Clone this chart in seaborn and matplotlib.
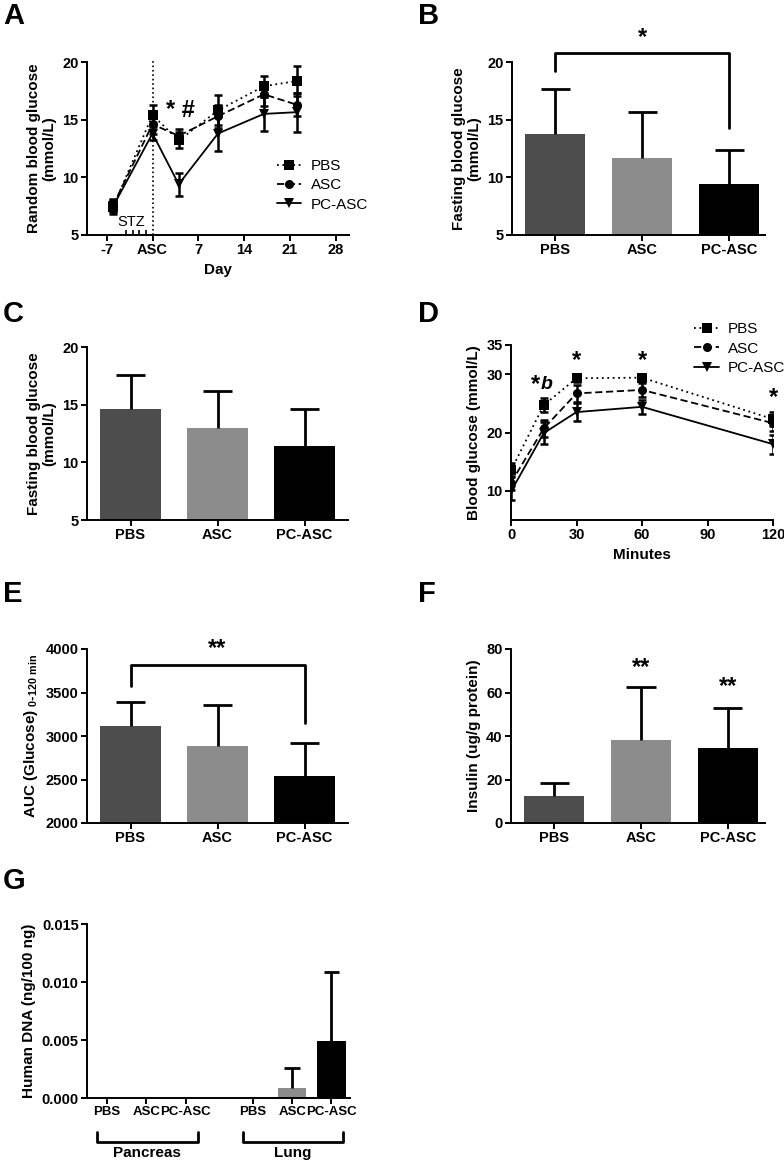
import matplotlib
matplotlib.use("Agg")
import matplotlib.pyplot as plt
import pandas as pd
import seaborn as sns

sns.set_style("ticks")
plt.rcParams['font.family'] = ['Liberation Sans', 'DejaVu Sans']
plt.rcParams['font.weight'] = 'bold'
plt.rcParams['axes.labelweight'] = 'bold'
plt.rcParams['text.color'] = 'black'
plt.rcParams['axes.labelcolor'] = 'black'
plt.rcParams['xtick.color'] = 'black'
plt.rcParams['ytick.color'] = 'black'

groups = ['PBS', 'ASC', 'PC-ASC']
colors = {'PBS': '#4d4d4d', 'ASC': '#8c8c8c', 'PC-ASC': '#000000'}

# A: random blood glucose over days
days = [-6, 0, 4, 10, 17, 22]
a_pbs = [7.45, 15.4, 13.2, 15.8, 17.9, 18.35]
a_pbs_err = [0.6, 0.9, 0.7, 1.3, 0.9, 1.3]
a_asc = [7.6, 14.6, 13.6, 15.3, 17.2, 16.3]
a_asc_err = [0.5, 0.8, 0.6, 1.0, 1.0, 1.0]
a_pc = [7.5, 13.8, 9.4, 13.8, 15.5, 15.65]
a_pc_err = [0.5, 0.6, 1.0, 1.5, 1.5, 1.7]
stz_days = [-4, -3, -2, -1]

# B: fasting blood glucose
b_mean = [13.75, 11.7, 9.45]
b_top = [17.7, 15.65, 12.35]

# C: fasting blood glucose
c_mean = [14.65, 13.0, 11.4]
c_top = [17.6, 16.2, 14.6]

# D: glucose tolerance
minutes = [0, 15, 30, 60, 120]
d_pbs = [13.5, 24.7, 29.3, 29.4, 22.3]
d_pbs_err = [1.2, 1.2, 0.6, 0.5, 1.2]
d_asc = [11.4, 20.7, 26.7, 27.3, 21.6]
d_asc_err = [1.2, 1.4, 1.5, 1.2, 1.3]
d_pc = [9.9, 19.9, 23.5, 24.4, 18.0]
d_pc_err = [1.4, 1.9, 1.5, 1.2, 1.6]

# E: AUC
e_mean = [3110, 2890, 2545]
e_top = [3390, 3360, 2925]

# F: insulin
f_mean = [12.6, 38.3, 34.4]
f_top = [18.5, 62.4, 53.0]

# G: human DNA
g_pos = [0, 1, 2, 3.7, 4.7, 5.7]
g_group = ['PBS', 'ASC', 'PC-ASC', 'PBS', 'ASC', 'PC-ASC']
g_mean = [0, 0, 0, 0, 0.0009, 0.0049]
g_top = [0, 0, 0, 0, 0.0026, 0.0109]
tissues = ['Pancreas', 'Lung']

W, H = 784, 1160
fig = plt.figure(figsize=(W / 100, H / 100), dpi=100)


def rect(l, r, t, b):
    return [l / W, 1 - b / H, (r - l) / W, (b - t) / H]


def style(ax):
    sns.despine(ax=ax)
    for s in ['left', 'bottom']:
        ax.spines[s].set_linewidth(1.4)
        ax.spines[s].set_color('black')
    ax.tick_params(width=1.4, length=4, labelsize=10.5, colors='black', pad=2)
    for t in ax.get_xticklabels() + ax.get_yticklabels():
        t.set_fontweight('bold')


def bars(ax, means, tops, cap=0.17):
    sns.barplot(x=groups, y=means, hue=groups, palette=colors, legend=False,
                saturation=1, width=0.69, linewidth=0, ax=ax)
    xs = range(len(means))
    ax.vlines(xs, means, tops, color='black', lw=2)
    ax.hlines(tops, [x - cap for x in xs], [x + cap for x in xs], color='black', lw=2)
    ax.set_xlabel('')


def lines(ax, x, series, errs, capsize=3):
    df = pd.DataFrame({'x': list(x) * 3,
                       'y': series[0] + series[1] + series[2],
                       'group': [g for g in groups for _ in x]})
    sns.lineplot(data=df, x='x', y='y', hue='group', style='group',
                 palette={g: 'black' for g in groups},
                 markers={'PBS': 's', 'ASC': 'o', 'PC-ASC': 'v'},
                 dashes={'PBS': (1, 2), 'ASC': (4, 2), 'PC-ASC': ''},
                 markersize=6.5, markeredgewidth=0, linewidth=1.3, ax=ax)
    for s, e in zip(series, errs):
        ax.errorbar(x, s, yerr=e, fmt='none', ecolor='black', elinewidth=1.8,
                    capsize=capsize, capthick=1.8)
    ax.set_xlabel('')


def letter(x, y, s):
    fig.text(x / W, 1 - y / H, s, fontsize=21, fontweight='bold', va='top', ha='left')


star = dict(ha='center', va='center', fontsize=17, fontweight='bold')
leg_font = {'weight': 'normal', 'size': 11}
leg_kw = dict(loc='upper left', frameon=False, prop=leg_font, handlelength=1.6,
              handletextpad=0.6, labelspacing=0.35, borderpad=0, borderaxespad=0)

# ---- A
ax = fig.add_axes(rect(87, 349, 62, 235))
lines(ax, days, [a_pbs, a_asc, a_pc], [a_pbs_err, a_asc_err, a_pc_err])
ax.axvline(0, ymax=1.01, color='black', ls=':', lw=1.2, clip_on=False)
ax.vlines(stz_days, 5, 5.4, color='black', lw=1.2)
ax.text(-3.3, 6.1, 'STZ', ha='center', va='center', fontsize=10.5, fontweight='normal')
ax.text(4.3, 15.8, '* #', **star)
ax.set_xlim(-10, 30)
ax.set_ylim(5, 20)
ax.set_xticks([-7, 0, 7, 14, 21, 28])
ax.set_xticklabels(['-7', 'ASC', '7', '14', '21', '28'])
ax.set_yticks([5, 10, 15, 20])
ax.set_xlabel('Day', fontsize=11)
ax.set_ylabel('Random blood glucose\n(mmol/L)', fontsize=11)
h, l = ax.get_legend_handles_labels()
ax.legend(h, l, bbox_to_anchor=(0.725, 0.44), **leg_kw)
style(ax)

# ---- B
ax = fig.add_axes(rect(512, 765, 62, 235))
bars(ax, b_mean, b_top)
ax.plot([0, 0, 2, 2], [19.2, 20.75, 20.75, 14.3], color='black', lw=2, clip_on=False)
ax.text(1, 22.1, '*', **star)
ax.set_xlim(-0.5, 2.41)
ax.set_ylim(5, 20)
ax.set_yticks([5, 10, 15, 20])
ax.set_ylabel('Fasting blood glucose\n(mmol/L)', fontsize=11)
style(ax)

# ---- C
ax = fig.add_axes(rect(87, 348, 347, 520))
bars(ax, c_mean, c_top)
ax.set_xlim(-0.5, 2.5)
ax.set_ylim(5, 20)
ax.set_yticks([5, 10, 15, 20])
ax.set_ylabel('Fasting blood glucose\n(mmol/L)', fontsize=11)
style(ax)

# ---- D
ax = fig.add_axes(rect(511, 773, 345, 520))
lines(ax, minutes, [d_pbs, d_asc, d_pc], [d_pbs_err, d_asc_err, d_pc_err])
ax.text(11, 28.2, '*', **star)
ax.text(16.5, 28.3, 'b', ha='center', va='center', fontsize=14, fontweight='bold', style='italic')
for m in [30, 60]:
    ax.text(m, 32.4, '*', **star)
ax.text(120, 26.0, '*', **star)
ax.set_xlim(0, 120)
ax.set_ylim(5, 35)
ax.set_xticks([0, 30, 60, 90, 120])
ax.set_yticks([10, 20, 30, 35])
ax.set_xlabel('Minutes', fontsize=11)
ax.set_ylabel('Blood glucose (mmol/L)', fontsize=11)
h, l = ax.get_legend_handles_labels()
ax.legend(h, l, bbox_to_anchor=(0.70, 1.13), **leg_kw)
style(ax)

# ---- E
ax = fig.add_axes(rect(87, 348, 649, 823))
bars(ax, e_mean, e_top)
ax.plot([0, 0, 2, 2], [3580, 3812, 3812, 3150], color='black', lw=2, clip_on=False)
ax.text(1, 4010, '**', **star)
ax.set_xlim(-0.5, 2.5)
ax.set_ylim(2000, 4000)
ax.set_yticks([2000, 2500, 3000, 3500, 4000])
ax.set_ylabel(r'AUC (Glucose) $\mathregular{_{0\text{-}120\ min}}$', fontsize=11)
style(ax)

# ---- F
ax = fig.add_axes(rect(511, 765, 649, 823))
bars(ax, f_mean, f_top)
ax.text(1, 71.5, '**', **star)
ax.text(2, 62.8, '**', **star)
ax.set_xlim(-0.5, 2.43)
ax.set_ylim(0, 80)
ax.set_yticks([0, 20, 40, 60, 80])
ax.set_ylabel('Insulin (ug/g protein)', fontsize=11)
style(ax)

# ---- G
ax = fig.add_axes(rect(87, 350, 924, 1098))
sns.barplot(x=g_pos, y=g_mean, hue=g_group, palette=colors, legend=False,
            native_scale=True, saturation=1, width=0.72, linewidth=0, ax=ax)
for x, m, t in zip(g_pos, g_mean, g_top):
    if t > m:
        ax.vlines(x, m, t, color='black', lw=2)
        ax.hlines(t, x - 0.2, x + 0.2, color='black', lw=2)
for i, name in enumerate(tissues):
    lo, hi = g_pos[3 * i] - 0.25, g_pos[3 * i + 2] + 0.3
    ax.plot([lo, lo, hi, hi], [-0.0029, -0.0038, -0.0038, -0.0029], color='black', lw=2, clip_on=False)
    ax.text((lo + hi) / 2, -0.0047, name, ha='center', va='center', fontsize=11, fontweight='bold')
ax.set_xlim(-0.51, 6.17)
ax.set_ylim(0, 0.015)
ax.set_xticks(g_pos)
ax.set_xticklabels(g_group)
ax.set_yticks([0, 0.005, 0.010, 0.015])
ax.set_yticklabels(['0.000', '0.005', '0.010', '0.015'])
ax.set_xlabel('')
ax.set_ylabel('Human DNA (ng/100 ng)', fontsize=11)
style(ax)
ax.tick_params(axis='x', labelsize=9.5)

letter(3, 2, 'A')
letter(418, 2, 'B')
letter(3, 300, 'C')
letter(418, 300, 'D')
letter(3, 580, 'E')
letter(418, 580, 'F')
letter(3, 867, 'G')

fig.savefig('out.png', dpi=100)
